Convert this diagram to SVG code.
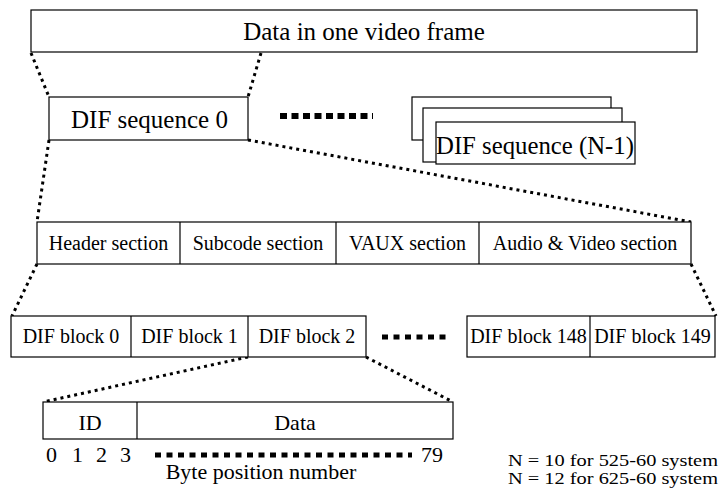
<svg xmlns="http://www.w3.org/2000/svg" width="721" height="488" viewBox="0 0 721 488">
  <style>
    .box { fill: #ffffff; stroke: #000000; stroke-width: 1.2; }
    .div { stroke: #000000; stroke-width: 1.2; }
    text { font-family: 'Liberation Serif', 'DejaVu Serif', 'Times New Roman', Times, serif; fill: #000000; }
    .big { font-size: 25px; }
    .mid { font-size: 20px; }
    .c { text-anchor: middle; }
    .link { fill: none; stroke: #000000; stroke-width: 3; stroke-dasharray: 3 4; }
    .ell { fill: none; stroke: #000000; stroke-width: 6; stroke-dasharray: 7 4.5; }
    .ell2 { fill: none; stroke: #000000; stroke-width: 5; stroke-dasharray: 6 5.5; }
  </style>
  <rect width="721" height="488" fill="#ffffff"/>

  <!-- zoom-out connectors between levels -->
  <g id="connectors">
    <line class="link" x1="31" y1="53" x2="49" y2="97"/>
    <line class="link" x1="261" y1="53" x2="248" y2="97"/>
    <line class="link" x1="49" y1="140" x2="37" y2="222"/>
    <line class="link" x1="248" y1="140" x2="691" y2="222"/>
    <line class="link" x1="37" y1="264" x2="12" y2="316"/>
    <line class="link" x1="691" y1="264" x2="716" y2="316"/>
    <line class="link" x1="248" y1="357" x2="43" y2="402"/>
    <line class="link" x1="366" y1="357" x2="453" y2="402"/>
  </g>

  <g id="frame">
    <rect class="box" x="31" y="10" width="666" height="42"/>
    <text class="big c" x="364" y="40">Data in one video frame</text>
  </g>

  <g id="seq0">
    <rect class="box" x="49" y="97" width="199" height="43"/>
    <text class="big" x="71" y="128">DIF sequence 0</text>
  </g>

  <g id="seq-ellipsis">
    <line class="ell" x1="280" y1="116" x2="373" y2="116"/>
  </g>

  <g id="seqN">
    <rect class="box" x="412" y="97" width="199" height="43"/>
    <rect class="box" x="423" y="108" width="199" height="54"/>
    <rect class="box" x="436" y="122" width="199" height="42"/>
    <text class="big" x="436" y="154" textLength="198" lengthAdjust="spacingAndGlyphs">DIF sequence (N-1)</text>
  </g>

  <g id="sections">
    <rect class="box" x="37" y="222" width="654" height="42"/>
    <line class="div" x1="180" y1="222" x2="180" y2="264"/>
    <line class="div" x1="336" y1="222" x2="336" y2="264"/>
    <line class="div" x1="479" y1="222" x2="479" y2="264"/>
    <text class="mid c" x="108.5" y="250">Header section</text>
    <text class="mid c" x="258" y="250">Subcode section</text>
    <text class="mid c" x="407.5" y="250">VAUX section</text>
    <text class="mid c" x="585" y="250">Audio &amp; Video section</text>
  </g>

  <g id="blocks">
    <rect class="box" x="11" y="316" width="355" height="41"/>
    <line class="div" x1="131" y1="316" x2="131" y2="357"/>
    <line class="div" x1="248" y1="316" x2="248" y2="357"/>
    <text class="mid c" x="71" y="343">DIF block 0</text>
    <text class="mid c" x="189.5" y="343">DIF block 1</text>
    <text class="mid c" x="307" y="343">DIF block 2</text>
    <line class="ell2" x1="382" y1="337" x2="450" y2="337"/>
    <rect class="box" x="467" y="316" width="248" height="41"/>
    <line class="div" x1="590" y1="316" x2="590" y2="357"/>
    <text class="mid c" x="528.5" y="343">DIF block 148</text>
    <text class="mid c" x="652.5" y="343">DIF block 149</text>
  </g>

  <g id="block-bytes">
    <rect class="box" x="43" y="402" width="410" height="37"/>
    <line class="div" x1="137" y1="402" x2="137" y2="439"/>
    <text class="c" x="90" y="430" font-size="22">ID</text>
    <text class="c" x="295" y="430" font-size="22">Data</text>
    <text x="46" y="462" font-size="22">0</text>
    <text x="72" y="462" font-size="22">1</text>
    <text x="96" y="462" font-size="22">2</text>
    <text x="120" y="462" font-size="22">3</text>
    <line class="ell2" x1="155" y1="455" x2="412" y2="455"/>
    <text x="421" y="462" font-size="22">79</text>
    <text class="c" x="261" y="479" font-size="22">Byte position number</text>
  </g>

  <g id="notes">
    <text x="508" y="466" font-size="17" textLength="210" lengthAdjust="spacingAndGlyphs">N = 10 for 525-60 system</text>
    <text x="508" y="484" font-size="17" textLength="210" lengthAdjust="spacingAndGlyphs">N = 12 for 625-60 system</text>
  </g>
</svg>
